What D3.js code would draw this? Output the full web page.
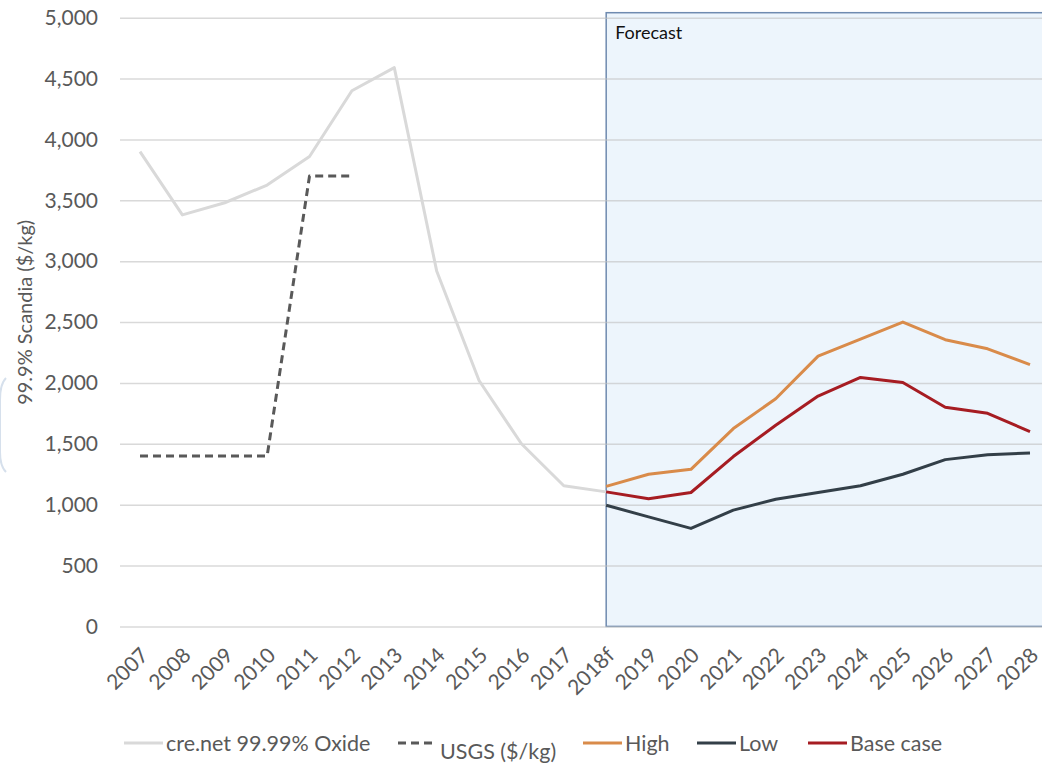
<!DOCTYPE html>
<html>
<head>
<meta charset="utf-8">
<script src="https://cdn.jsdelivr.net/npm/d3@7"></script>
<style>
  body { margin: 0; background: #fff; }
  text { font-family: Lato, "Open Sans", sans-serif; }
</style>
</head>
<body>
<div id="canvas"></div>
<script>
"use strict"

/* ---------- data ---------- */
let years = ["2007", "2008", "2009", "2010", "2011", "2012", "2013", "2014", "2015",
  "2016", "2017", "2018f", "2019", "2020", "2021", "2022", "2023", "2024", "2025",
  "2026", "2027", "2028"];

let creYears = years.slice(0, 12);
let creValues = [3900, 3380, 3480, 3625, 3860, 4400, 4590, 2920, 2020, 1500, 1155, 1105];

let usgsYears = ["2007", "2008", "2009", "2010", "2011", "2012"];
let usgsValues = [1400, 1400, 1400, 1400, 3700, 3700];

let fcYears = years.slice(11);
let highValues = [1150, 1250, 1290, 1625, 1870, 2220, 2360, 2500, 2355, 2280, 2150];
let lowValues = [995, 900, 805, 955, 1045, 1100, 1155, 1250, 1370, 1410, 1425];
let baseValues = [1105, 1048, 1100, 1395, 1652, 1892, 2045, 2003, 1800, 1750, 1600];

let yTicks = [0, 500, 1000, 1500, 2000, 2500, 3000, 3500, 4000, 4500, 5000];

/* ---------- canvas ---------- */
let width = 1042, height = 764;
let drawing = d3.select("#canvas")
  .append("svg")
  .attr("width", width)
  .attr("height", height);

let x = d3.scalePoint().domain(years).range([140, 1030]);
let y = d3.scaleLinear().domain([0, 5000]).range([626.4, 17.7]);
let plotLeft = 120;

/* forecast box (behind the grid) */
let forecastBox = drawing.append("rect")
  .attr("x", x("2018f")).attr("y", y(5000) - 5)
  .attr("width", width + 5 - x("2018f"))
  .attr("height", y(0) - y(5000) + 5)
  .attr("fill", "#edf5fc")
  .attr("stroke", "#6f8bb0")
  .attr("stroke-width", 1.5);

let forecastLabel = drawing.append("text")
  .attr("x", x("2018f") + 9).attr("y", y(5000) + 21)
  .attr("font-size", 18).attr("fill", "#111")
  .text("Forecast");

/* faint artefact on the left edge */
drawing.append("path")
  .attr("d", "M6,378 Q0,384 0,400 L0,452 Q0,466 6,472")
  .attr("fill", "none").attr("stroke", "#d6e0ec").attr("stroke-width", 2);

/* gridlines */
let grid = drawing.append("g")
  .attr("transform", `translate(${plotLeft},0)`)
  .call(d3.axisLeft(y).tickValues(yTicks).tickSize(-(width - plotLeft)).tickFormat(""));
grid.select(".domain").remove();
grid.selectAll("line").attr("stroke", "#bfbfbf").attr("stroke-opacity", 0.6).attr("stroke-width", 1.5);

/* y axis labels */
let yAxis = drawing.append("g")
  .attr("transform", "translate(98,0)")
  .call(d3.axisLeft(y).tickValues(yTicks).tickSize(0).tickPadding(0).tickFormat(d3.format(",")));
yAxis.select(".domain").remove();
yAxis.selectAll("text").attr("font-size", 21).attr("fill", "#595959")
  .style("font-family", "Lato, sans-serif");

let yTitle = drawing.append("text")
  .attr("transform", `translate(32,${y(2580)}) rotate(-90)`)
  .attr("text-anchor", "middle")
  .attr("font-size", 20).attr("fill", "#595959")
  .text("99.9% Scandia ($/kg)");

/* x axis labels */
let xAxis = drawing.append("g")
  .attr("transform", `translate(0,${y(0)})`)
  .call(d3.axisBottom(x).tickSize(0));
xAxis.select(".domain").remove();
xAxis.selectAll("text")
  .attr("x", 0).attr("y", 0).attr("dy", "0.35em")
  .attr("transform", "translate(4,25) rotate(-45)")
  .attr("text-anchor", "end")
  .attr("font-size", 21).attr("fill", "#595959")
  .style("font-family", "Lato, sans-serif");

/* ---------- lines ---------- */
function drawSeries(cats, vals, color, dash) {
  let line = d3.line().x(d => x(d[0])).y(d => y(d[1]));
  return drawing.append("path")
    .datum(d3.zip(cats, vals))
    .attr("d", line)
    .attr("fill", "none")
    .attr("stroke", color)
    .attr("stroke-width", 3)
    .attr("stroke-dasharray", dash || null)
    .attr("stroke-linejoin", "round");
}

let creLine = drawSeries(creYears, creValues, "#d9d9d9");
let usgsLine = drawSeries(usgsYears, usgsValues, "#595959", "8,5");
let highLine = drawSeries(fcYears, highValues, "#d98b4a");
let lowLine = drawSeries(fcYears, lowValues, "#333f48");
let baseLine = drawSeries(fcYears, baseValues, "#a61c22");

/* ---------- legend ---------- */
let legendItems = [
  { name: "cre.net 99.99% Oxide", color: "#d9d9d9", x: 124, dash: null, dy: 0 },
  { name: "USGS ($/kg)", color: "#595959", x: 398, dash: "8,5", dy: 8 },
  { name: "High", color: "#d98b4a", x: 583, dash: null, dy: 0 },
  { name: "Low", color: "#333f48", x: 697, dash: null, dy: 0 },
  { name: "Base case", color: "#a61c22", x: 808, dash: null, dy: 0 }
];
let legend = drawing.append("g");
legendItems.forEach(item => {
  legend.append("line")
    .attr("x1", item.x).attr("x2", item.x + 39)
    .attr("y1", 743).attr("y2", 743)
    .attr("stroke", item.color).attr("stroke-width", 3)
    .attr("stroke-dasharray", item.dash);
  legend.append("text")
    .attr("x", item.x + 42).attr("y", 751 + item.dy)
    .attr("font-size", 21.5).attr("fill", "#595959")
    .text(item.name);
});
</script>
</body>
</html>
